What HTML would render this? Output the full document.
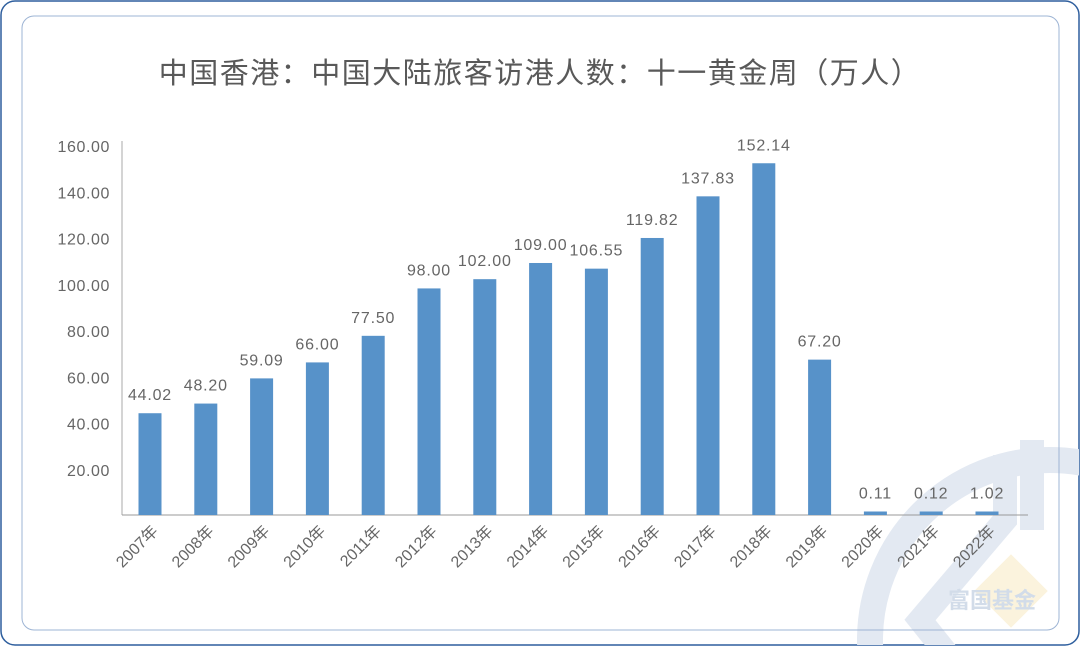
<!DOCTYPE html>
<html><head><meta charset="utf-8"><style>
html,body{margin:0;background:#fff;overflow:hidden;width:1080px;height:646px;}
svg{display:block;font-family:"Liberation Sans","Noto Sans CJK SC",sans-serif;}
</style></head><body>
<svg id="c" width="1080" height="646" viewBox="0 0 1080 646">
<defs><clipPath id="cl"><rect x="1" y="1" width="1078" height="644" rx="14"/></clipPath></defs>
<rect x="1" y="1" width="1078" height="644" rx="14" fill="#fff" stroke="#2f5f9e" stroke-width="1.5"/>
<g clip-path="url(#cl)">
<circle cx="1050" cy="640" r="180" fill="none" stroke="#e3e9f2" stroke-width="26"/>
<path d="M1005 455 L1005 520 L920 620 L1000 720" fill="none" stroke="#e3e9f2" stroke-width="24"/>
<rect x="1020" y="440" width="24" height="90" fill="#e3e9f2"/>
<rect x="985" y="565" width="52" height="52" transform="rotate(45 1011 591)" fill="#fbf3dd"/>
<text x="992" y="608" font-size="22" font-weight="bold" fill="#d2dce9" text-anchor="middle">富国基金</text>
</g>
<rect x="22" y="16" width="1037" height="614" rx="12" fill="none" stroke="#9db4d4" stroke-width="1"/>
<text x="540" y="83" font-size="29" fill="#595959" text-anchor="middle" letter-spacing="1.5">中国香港：中国大陆旅客访港人数：十一黄金周（万人）</text>
<g id="axes"></g><g id="bars"></g>
</svg>
<script>
const categories=["2007年","2008年","2009年","2010年","2011年","2012年","2013年","2014年","2015年","2016年","2017年","2018年","2019年","2020年","2021年","2022年"];
const values=[44.02,48.20,59.09,66.00,77.50,98.00,102.00,109.00,106.55,119.82,137.83,152.14,67.20,0.11,0.12,1.02];
const yTicks=[20,40,60,80,100,120,140,160];
const NS="http://www.w3.org/2000/svg";
const y0=515,k=2.312,x0=150,dx=55.8,bw=23;
const y=v=>y0-v*k, x=i=>x0+i*dx;
function mk(t,a,p,txt){const e=document.createElementNS(NS,t);for(const n in a)e.setAttribute(n,a[n]);if(txt!=null)e.textContent=txt;p.appendChild(e);return e;}
const ax=document.getElementById('axes'),bg=document.getElementById('bars');
let e=mk('line',{x1:122,y1:141,x2:122,y2:y0,stroke:'#aaa'},ax);


e=mk('line',{x1:122,y1:y0,x2:1028,y2:y0,stroke:'#999'},ax);


yTicks.forEach(v=>{const t=mk('text',{x:110,y:y(v)+7,'font-size':16,fill:'#666','text-anchor':'end','letter-spacing':'0.6'},ax,v.toFixed(2));

});
categories.forEach((c,i)=>{const h=Math.max(values[i]*k,3.5);
const r=mk('rect',{x:x(i)-bw/2,y:y0-h,width:bw,height:h,fill:'#5792c9'},bg);


const l=mk('text',{x:x(i),y:y0-h-13,'font-size':16,fill:'#666','text-anchor':'middle','letter-spacing':'0.8'},bg,values[i].toFixed(2));


const xl=mk('text',{x:x(i)+9,y:y0+17,'font-size':16,fill:'#666','text-anchor':'end',transform:`rotate(-45 ${x(i)+9} ${y0+17})`},bg,c);

});
</script>
</body></html>
